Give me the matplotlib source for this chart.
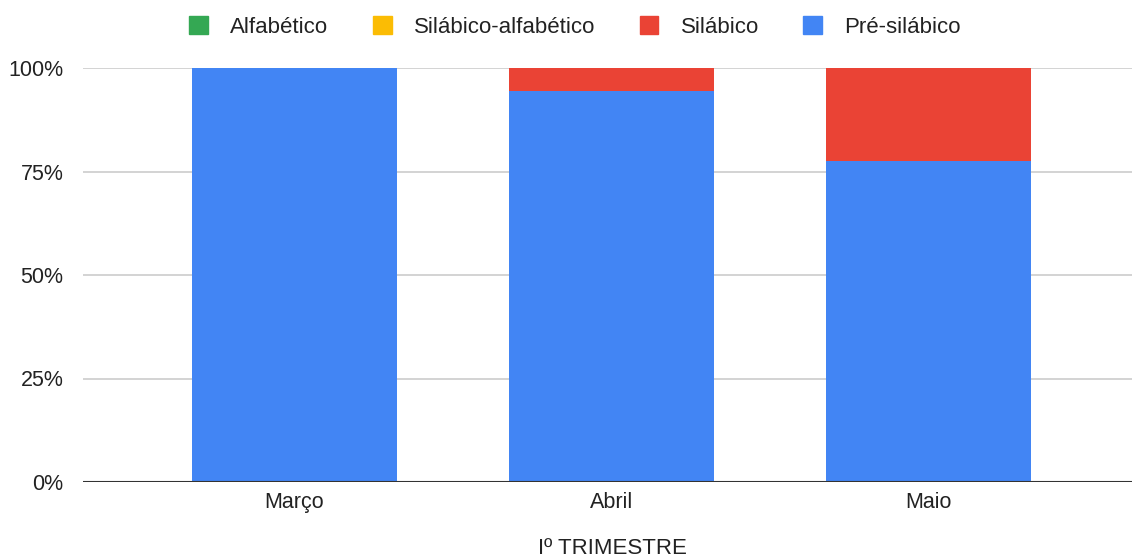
import matplotlib.pyplot as plt
from matplotlib.patches import Patch
import numpy as np

plt.rcParams['font.family'] = ['Liberation Sans', 'DejaVu Sans']

months = ["Março", "Abril", "Maio"]
series_names = ["Alfabético", "Silábico-alfabético", "Silábico", "Pré-silábico"]
colors = ["#34A853", "#FBBC04", "#EA4335", "#4285F4"]

# percentages per month
pre_silabico = [100.0, 94.4, 77.6]
silabico = [0.0, 5.6, 22.4]
silabico_alfabetico = [0.0, 0.0, 0.0]
alfabetico = [0.0, 0.0, 0.0]

fig = plt.figure(figsize=(11.32, 5.59), dpi=100)
ax = fig.add_axes([83 / 1132, 1 - 482 / 559, 1057 / 1132, 414 / 559])

x = np.arange(len(months))
w = 0.647
bottom = np.zeros(len(months))
# stack from bottom: pre-silabico, silabico, silabico-alfabetico, alfabetico
for vals, col in [(pre_silabico, colors[3]), (silabico, colors[2]),
                  (silabico_alfabetico, colors[1]), (alfabetico, colors[0])]:
    ax.bar(x, vals, w, bottom=bottom, color=col, zorder=3)
    bottom += np.array(vals)

ax.set_xlim(-0.667, 2.667)
ax.set_ylim(0, 100)
ax.set_yticks([0, 25, 50, 75, 100])
ax.set_yticklabels(["0%", "25%", "50%", "75%", "100%"])
ax.set_xticks(x)
ax.set_xticklabels(months)
ax.tick_params(length=0, labelsize=15.5, colors="#222222", pad=7)
ax.tick_params(axis='y', pad=14)
ax.yaxis.grid(True, color="#cccccc", linewidth=1.2, zorder=0)
ax.axhline(0, color="#333333", linewidth=1.5, zorder=4)
for s in ax.spines.values():
    s.set_visible(False)

fig.text(612 / 1132, 1 - 548 / 559, "Iº TRIMESTRE", fontsize=16, color="#222222",
         ha="center", va="center")

handles = [Patch(facecolor=c, edgecolor=c) for c in colors]
fig.legend(handles, series_names, loc="center", bbox_to_anchor=(575 / 1132, 1 - 27 / 559),
           ncol=4, frameon=False, fontsize=16, handlelength=0.85, handleheight=0.85,
           columnspacing=2.0, handletextpad=1.0, labelcolor="#222222")

fig.savefig("out.png", dpi=100)
